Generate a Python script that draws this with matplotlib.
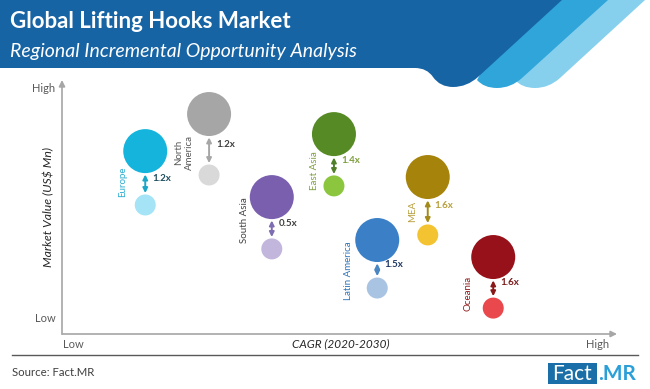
import numpy as np
import matplotlib.pyplot as plt
from matplotlib.path import Path
from matplotlib.patches import PathPatch, Rectangle

plt.rcParams['font.family'] = ['Lato', 'DejaVu Sans']

# data (relative scale 0-100)
regions = ['Europe', 'North\nAmerica', 'South Asia', 'East Asia', 'Latin America', 'MEA', 'Oceania']
cagr = [15.0, 26.5, 37.8, 49.0, 56.8, 65.9, 77.7]
value_2030 = [72.0, 86.6, 53.9, 78.7, 37.0, 61.8, 30.3]
value_2020 = [50.8, 62.6, 33.5, 58.3, 18.1, 39.0, 10.2]
growth = ['1.2x', '1.2x', '0.5x', '1.4x', '1.5x', '1.6x', '1.6x']

big_colors = ['#14b4dc', '#a6a6a6', '#7a5fae', '#568a25', '#3b80c6', '#a6840c', '#97111a']
small_colors = ['#a4e4f6', '#d9d9d9', '#c3b6dc', '#8cc63f', '#a9c4e2', '#f4c331', '#e9484d']
arrow_colors = ['#1aa6c6', '#a6a6a6', '#7f6db3', '#4f7f2a', '#4a86c2', '#a38a1a', '#8a1a1a']
name_colors = ['#2aaed2', '#595959', '#404040', '#7f9f3f', '#2e75b6', '#b8a03c', '#8b1a1a']
growth_colors = ['#1f4e5f', '#404040', '#404040', '#7f9f3f', '#1f3864', '#b8a03c', '#7f1a1a']

# label offsets in points (dx, dy) from midpoint of the pair
name_offsets = [(-16, -3), (-18, -6), (-20, 2), (-14, -8), (-21, -5), (-11, -4), (-18, -8)]

W, H = 650, 389
fig = plt.figure(figsize=(6.5, 3.89), dpi=100)

def fx(px):
    return px / W

def fy(py):
    return 1 - py / H

# header / background layer
bg = fig.add_axes([0, 0, 1, 1])
bg.set_xlim(0, W)
bg.set_ylim(H, 0)
bg.axis('off')

def band(verts, color):
    codes = [Path.MOVETO] + [Path.LINETO] * 2 + [Path.CURVE3] * 4 + [Path.LINETO, Path.CLOSEPOLY]
    bg.add_patch(PathPatch(Path(verts, codes), facecolor=color, edgecolor='none'))

band([(598, 0), (645, 0), (560, 78), (549, 88), (535, 88), (522, 88), (515, 80), (560, 0), (598, 0)], '#86d0ee')
band([(560, 0), (608, 0), (522, 78), (511, 88), (497, 88), (484, 88), (477, 80), (520, 0), (560, 0)], '#2fa5da')
dark = Path([(0, 0), (562, 0), (478, 77), (467, 87), (453, 87), (440, 87), (433, 77),
             (427, 68), (415, 68), (0, 68), (0, 0)],
            [Path.MOVETO, Path.LINETO, Path.LINETO, Path.CURVE3, Path.CURVE3, Path.CURVE3, Path.CURVE3,
             Path.CURVE3, Path.CURVE3, Path.LINETO, Path.CLOSEPOLY])
bg.add_patch(PathPatch(dark, facecolor='#1764a5', edgecolor='none'))

bg.plot([12, 638], [355, 355], color='#595959', lw=1)
bg.add_patch(Rectangle((548, 363), 49, 21, facecolor='#1a6fa8', edgecolor='none'))

fig.text(fx(10), fy(21), 'Global Lifting Hooks Market', color='white', fontsize=16,
         fontweight='bold', va='center')
fig.text(fx(10), fy(52), 'Regional Incremental Opportunity Analysis', color='white',
         fontsize=14, style='italic', va='center')
fig.text(fx(12), fy(373), 'Source: Fact.MR', color='#404040', fontsize=8.2, va='center')
fig.text(fx(572.5), fy(373.5), 'Fact', color='white', fontsize=15, ha='center', va='center')
fig.text(fx(598), fy(373.5), '.MR', color='#2b9fd8', fontsize=15, fontweight='bold',
         ha='left', va='center')

# chart axes
ax = fig.add_axes([fx(62), fy(334), fx(555), 254 / H])
ax.patch.set_alpha(0)
ax.set_xlim(0, 100)
ax.set_ylim(0, 100)
ax.axis('off')

ax.annotate('', xy=(0, 1.0), xytext=(0, 0), xycoords='axes fraction',
            arrowprops=dict(arrowstyle='-|>', color='#a6a6a6', lw=1.2, shrinkA=0, shrinkB=0,
                            mutation_scale=9))
ax.annotate('', xy=(1.0, 0), xytext=(0, 0), xycoords='axes fraction',
            arrowprops=dict(arrowstyle='-|>', color='#a6a6a6', lw=1.2, shrinkA=0, shrinkB=0,
                            mutation_scale=9))

fig.text(fx(44), fy(88), 'High', color='#595959', fontsize=8, ha='center', va='center')
fig.text(fx(45), fy(319), 'Low', color='#595959', fontsize=8, ha='center', va='center')
fig.text(fx(73), fy(344), 'Low', color='#595959', fontsize=8, ha='center', va='center')
fig.text(fx(598), fy(344), 'High', color='#595959', fontsize=8, ha='center', va='center')
fig.text(fx(341), fy(344), 'CAGR (2020-2030)', color='#262626', fontsize=8.5,
         style='italic', ha='center', va='center')
fig.text(fx(49), fy(207), 'Market Value (US$ Mn)', color='#262626', fontsize=8.8,
         style='italic', ha='center', va='center', rotation=90)

r_big, r_small = 22 * 0.72, 10.5 * 0.72
ax.scatter(cagr, value_2030, s=(2 * r_big) ** 2, c=big_colors, edgecolors='none', zorder=3)
ax.scatter(cagr, value_2020, s=(2 * r_small) ** 2, c=small_colors, edgecolors='none', zorder=3)

for i in range(len(regions)):
    ax.annotate('', xy=(cagr[i], value_2020[i]), xytext=(cagr[i], value_2030[i]),
                arrowprops=dict(arrowstyle='<|-|>', color=arrow_colors[i], lw=1.4,
                                shrinkA=r_big + 1, shrinkB=r_small + 1, mutation_scale=7))
    mid = (value_2030[i] + value_2020[i]) / 2
    ax.annotate(growth[i], (cagr[i], mid), xytext=(5, 0), textcoords='offset points',
                color=growth_colors[i], fontsize=7, fontweight='bold', ha='left', va='center')
    dx, dy = name_offsets[i]
    ax.annotate(regions[i], (cagr[i], mid), xytext=(dx, dy), textcoords='offset points',
                color=name_colors[i], fontsize=7, rotation=90, ha='center', va='center',
                multialignment='center')

fig.savefig('out.png', dpi=100)
